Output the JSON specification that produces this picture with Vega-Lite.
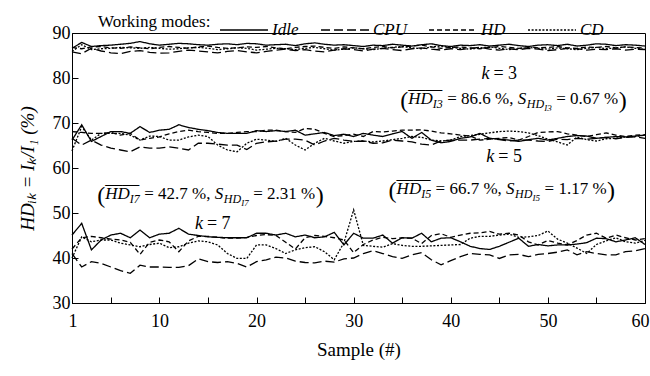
{
"$schema": "https://vega.github.io/schema/vega-lite/v6.json",
"width": 573, "height": 270,
"autosize": {"type": "none"},
"padding": {"left": 72, "top": 33, "right": 5, "bottom": 73},
"background": "white",
"config": {
  "view": {"stroke": "black", "strokeWidth": 1},
  "axis": {"domainColor": "black", "tickColor": "black", "labelColor": "black", "titleColor": "black", "grid": false,
           "labelFont": "Liberation Serif", "titleFont": "Liberation Serif", "labelFontSize": 18, "titleFontSize": 19,
           "titleFontWeight": "normal", "tickSize": -6, "domainWidth": 1, "tickWidth": 1}
},
"datasets": {
"ks": [
 {"s": 44.8, "v": 80.9, "t": "= 3"},
 {"s": 45.3, "v": 62.4, "t": "= 5"},
 {"s": 15.3, "v": 47.6, "t": "= 7"}
],
"forms": [
 {"s": 34.8, "v": 74.3, "sub": "I3", "m1": "= 86.6 %,", "m2": "= 0.67 %"},
 {"s": 33.6, "v": 54.2, "sub": "I5", "m1": "= 66.7 %,", "m2": "= 1.17 %"},
 {"s": 3.6, "v": 53.2, "sub": "I7", "m1": "= 42.7 %,", "m2": "= 2.31 %"}
],
"lines": [
{"k":3,"m":"Idle","s":1,"v":86.6},{"k":3,"m":"Idle","s":2,"v":87.9},{"k":3,"m":"Idle","s":3,"v":87.0},{"k":3,"m":"Idle","s":4,"v":87.2},{"k":3,"m":"Idle","s":5,"v":87.3},{"k":3,"m":"Idle","s":6,"v":87.5},{"k":3,"m":"Idle","s":7,"v":87.7},{"k":3,"m":"Idle","s":8,"v":88.1},{"k":3,"m":"Idle","s":9,"v":87.6},{"k":3,"m":"Idle","s":10,"v":87.3},
{"k":3,"m":"Idle","s":11,"v":87.5},{"k":3,"m":"Idle","s":12,"v":87.7},{"k":3,"m":"Idle","s":13,"v":87.6},{"k":3,"m":"Idle","s":14,"v":87.4},{"k":3,"m":"Idle","s":15,"v":87.3},{"k":3,"m":"Idle","s":16,"v":87.5},{"k":3,"m":"Idle","s":17,"v":87.6},{"k":3,"m":"Idle","s":18,"v":87.4},{"k":3,"m":"Idle","s":19,"v":87.7},{"k":3,"m":"Idle","s":20,"v":87.6},
{"k":3,"m":"Idle","s":21,"v":87.3},{"k":3,"m":"Idle","s":22,"v":87.4},{"k":3,"m":"Idle","s":23,"v":87.5},{"k":3,"m":"Idle","s":24,"v":87.2},{"k":3,"m":"Idle","s":25,"v":87.6},{"k":3,"m":"Idle","s":26,"v":87.8},{"k":3,"m":"Idle","s":27,"v":87.5},{"k":3,"m":"Idle","s":28,"v":87.3},{"k":3,"m":"Idle","s":29,"v":87.4},{"k":3,"m":"Idle","s":30,"v":87.2},
{"k":3,"m":"Idle","s":31,"v":87.0},{"k":3,"m":"Idle","s":32,"v":87.3},{"k":3,"m":"Idle","s":33,"v":87.2},{"k":3,"m":"Idle","s":34,"v":87.5},{"k":3,"m":"Idle","s":35,"v":87.3},{"k":3,"m":"Idle","s":36,"v":87.1},{"k":3,"m":"Idle","s":37,"v":87.4},{"k":3,"m":"Idle","s":38,"v":87.6},{"k":3,"m":"Idle","s":39,"v":87.2},{"k":3,"m":"Idle","s":40,"v":87.0},
{"k":3,"m":"Idle","s":41,"v":87.3},{"k":3,"m":"Idle","s":42,"v":87.2},{"k":3,"m":"Idle","s":43,"v":87.4},{"k":3,"m":"Idle","s":44,"v":87.1},{"k":3,"m":"Idle","s":45,"v":87.3},{"k":3,"m":"Idle","s":46,"v":87.5},{"k":3,"m":"Idle","s":47,"v":87.2},{"k":3,"m":"Idle","s":48,"v":87.0},{"k":3,"m":"Idle","s":49,"v":87.3},{"k":3,"m":"Idle","s":50,"v":87.4},
{"k":3,"m":"Idle","s":51,"v":87.2},{"k":3,"m":"Idle","s":52,"v":87.5},{"k":3,"m":"Idle","s":53,"v":87.1},{"k":3,"m":"Idle","s":54,"v":87.3},{"k":3,"m":"Idle","s":55,"v":87.6},{"k":3,"m":"Idle","s":56,"v":87.5},{"k":3,"m":"Idle","s":57,"v":87.2},{"k":3,"m":"Idle","s":58,"v":87.4},{"k":3,"m":"Idle","s":59,"v":87.3},{"k":3,"m":"Idle","s":60,"v":87.1},
{"k":3,"m":"CPU","s":1,"v":85.8},{"k":3,"m":"CPU","s":2,"v":85.4},{"k":3,"m":"CPU","s":3,"v":86.6},{"k":3,"m":"CPU","s":4,"v":86.0},{"k":3,"m":"CPU","s":5,"v":85.6},{"k":3,"m":"CPU","s":6,"v":85.4},{"k":3,"m":"CPU","s":7,"v":85.9},{"k":3,"m":"CPU","s":8,"v":86.1},{"k":3,"m":"CPU","s":9,"v":85.7},{"k":3,"m":"CPU","s":10,"v":85.5},
{"k":3,"m":"CPU","s":11,"v":85.6},{"k":3,"m":"CPU","s":12,"v":85.9},{"k":3,"m":"CPU","s":13,"v":86.2},{"k":3,"m":"CPU","s":14,"v":86.0},{"k":3,"m":"CPU","s":15,"v":85.8},{"k":3,"m":"CPU","s":16,"v":85.6},{"k":3,"m":"CPU","s":17,"v":85.9},{"k":3,"m":"CPU","s":18,"v":86.1},{"k":3,"m":"CPU","s":19,"v":85.8},{"k":3,"m":"CPU","s":20,"v":85.6},
{"k":3,"m":"CPU","s":21,"v":85.9},{"k":3,"m":"CPU","s":22,"v":86.2},{"k":3,"m":"CPU","s":23,"v":86.4},{"k":3,"m":"CPU","s":24,"v":86.1},{"k":3,"m":"CPU","s":25,"v":86.3},{"k":3,"m":"CPU","s":26,"v":86.0},{"k":3,"m":"CPU","s":27,"v":85.8},{"k":3,"m":"CPU","s":28,"v":86.2},{"k":3,"m":"CPU","s":29,"v":86.5},{"k":3,"m":"CPU","s":30,"v":86.3},
{"k":3,"m":"CPU","s":31,"v":86.0},{"k":3,"m":"CPU","s":32,"v":86.4},{"k":3,"m":"CPU","s":33,"v":86.6},{"k":3,"m":"CPU","s":34,"v":86.3},{"k":3,"m":"CPU","s":35,"v":86.1},{"k":3,"m":"CPU","s":36,"v":86.5},{"k":3,"m":"CPU","s":37,"v":86.7},{"k":3,"m":"CPU","s":38,"v":86.4},{"k":3,"m":"CPU","s":39,"v":86.2},{"k":3,"m":"CPU","s":40,"v":86.5},
{"k":3,"m":"CPU","s":41,"v":86.3},{"k":3,"m":"CPU","s":42,"v":86.6},{"k":3,"m":"CPU","s":43,"v":86.8},{"k":3,"m":"CPU","s":44,"v":86.4},{"k":3,"m":"CPU","s":45,"v":86.2},{"k":3,"m":"CPU","s":46,"v":86.5},{"k":3,"m":"CPU","s":47,"v":86.3},{"k":3,"m":"CPU","s":48,"v":86.6},{"k":3,"m":"CPU","s":49,"v":86.4},{"k":3,"m":"CPU","s":50,"v":86.1},
{"k":3,"m":"CPU","s":51,"v":86.3},{"k":3,"m":"CPU","s":52,"v":86.6},{"k":3,"m":"CPU","s":53,"v":86.5},{"k":3,"m":"CPU","s":54,"v":86.2},{"k":3,"m":"CPU","s":55,"v":86.4},{"k":3,"m":"CPU","s":56,"v":86.3},{"k":3,"m":"CPU","s":57,"v":86.5},{"k":3,"m":"CPU","s":58,"v":86.2},{"k":3,"m":"CPU","s":59,"v":86.4},{"k":3,"m":"CPU","s":60,"v":86.3},
{"k":3,"m":"HD","s":1,"v":86.8},{"k":3,"m":"HD","s":2,"v":86.5},{"k":3,"m":"HD","s":3,"v":86.9},{"k":3,"m":"HD","s":4,"v":87.0},{"k":3,"m":"HD","s":5,"v":86.7},{"k":3,"m":"HD","s":6,"v":86.6},{"k":3,"m":"HD","s":7,"v":86.9},{"k":3,"m":"HD","s":8,"v":86.7},{"k":3,"m":"HD","s":9,"v":86.5},{"k":3,"m":"HD","s":10,"v":86.8},
{"k":3,"m":"HD","s":11,"v":87.0},{"k":3,"m":"HD","s":12,"v":86.8},{"k":3,"m":"HD","s":13,"v":86.6},{"k":3,"m":"HD","s":14,"v":86.9},{"k":3,"m":"HD","s":15,"v":87.1},{"k":3,"m":"HD","s":16,"v":86.8},{"k":3,"m":"HD","s":17,"v":86.6},{"k":3,"m":"HD","s":18,"v":86.7},{"k":3,"m":"HD","s":19,"v":86.9},{"k":3,"m":"HD","s":20,"v":86.8},
{"k":3,"m":"HD","s":21,"v":87.0},{"k":3,"m":"HD","s":22,"v":86.7},{"k":3,"m":"HD","s":23,"v":86.5},{"k":3,"m":"HD","s":24,"v":86.8},{"k":3,"m":"HD","s":25,"v":87.0},{"k":3,"m":"HD","s":26,"v":87.1},{"k":3,"m":"HD","s":27,"v":86.8},{"k":3,"m":"HD","s":28,"v":86.6},{"k":3,"m":"HD","s":29,"v":86.9},{"k":3,"m":"HD","s":30,"v":86.7},
{"k":3,"m":"HD","s":31,"v":86.5},{"k":3,"m":"HD","s":32,"v":86.8},{"k":3,"m":"HD","s":33,"v":87.0},{"k":3,"m":"HD","s":34,"v":86.7},{"k":3,"m":"HD","s":35,"v":86.9},{"k":3,"m":"HD","s":36,"v":87.1},{"k":3,"m":"HD","s":37,"v":87.3},{"k":3,"m":"HD","s":38,"v":86.9},{"k":3,"m":"HD","s":39,"v":86.6},{"k":3,"m":"HD","s":40,"v":86.8},
{"k":3,"m":"HD","s":41,"v":86.9},{"k":3,"m":"HD","s":42,"v":86.7},{"k":3,"m":"HD","s":43,"v":86.5},{"k":3,"m":"HD","s":44,"v":86.8},{"k":3,"m":"HD","s":45,"v":87.0},{"k":3,"m":"HD","s":46,"v":86.8},{"k":3,"m":"HD","s":47,"v":86.6},{"k":3,"m":"HD","s":48,"v":86.9},{"k":3,"m":"HD","s":49,"v":86.7},{"k":3,"m":"HD","s":50,"v":86.8},
{"k":3,"m":"HD","s":51,"v":87.0},{"k":3,"m":"HD","s":52,"v":86.7},{"k":3,"m":"HD","s":53,"v":86.6},{"k":3,"m":"HD","s":54,"v":86.9},{"k":3,"m":"HD","s":55,"v":86.8},{"k":3,"m":"HD","s":56,"v":87.0},{"k":3,"m":"HD","s":57,"v":86.7},{"k":3,"m":"HD","s":58,"v":86.9},{"k":3,"m":"HD","s":59,"v":86.8},{"k":3,"m":"HD","s":60,"v":86.6},
{"k":3,"m":"CD","s":1,"v":85.9},{"k":3,"m":"CD","s":2,"v":87.4},{"k":3,"m":"CD","s":3,"v":86.3},{"k":3,"m":"CD","s":4,"v":86.5},{"k":3,"m":"CD","s":5,"v":86.6},{"k":3,"m":"CD","s":6,"v":86.8},{"k":3,"m":"CD","s":7,"v":86.7},{"k":3,"m":"CD","s":8,"v":86.6},{"k":3,"m":"CD","s":9,"v":86.8},{"k":3,"m":"CD","s":10,"v":86.6},
{"k":3,"m":"CD","s":11,"v":86.4},{"k":3,"m":"CD","s":12,"v":86.5},{"k":3,"m":"CD","s":13,"v":86.7},{"k":3,"m":"CD","s":14,"v":86.8},{"k":3,"m":"CD","s":15,"v":86.6},{"k":3,"m":"CD","s":16,"v":86.3},{"k":3,"m":"CD","s":17,"v":86.5},{"k":3,"m":"CD","s":18,"v":86.7},{"k":3,"m":"CD","s":19,"v":86.6},{"k":3,"m":"CD","s":20,"v":86.2},
{"k":3,"m":"CD","s":21,"v":86.4},{"k":3,"m":"CD","s":22,"v":86.6},{"k":3,"m":"CD","s":23,"v":86.5},{"k":3,"m":"CD","s":24,"v":86.3},{"k":3,"m":"CD","s":25,"v":86.6},{"k":3,"m":"CD","s":26,"v":86.8},{"k":3,"m":"CD","s":27,"v":86.5},{"k":3,"m":"CD","s":28,"v":86.2},{"k":3,"m":"CD","s":29,"v":86.4},{"k":3,"m":"CD","s":30,"v":86.7},
{"k":3,"m":"CD","s":31,"v":86.5},{"k":3,"m":"CD","s":32,"v":86.3},{"k":3,"m":"CD","s":33,"v":86.6},{"k":3,"m":"CD","s":34,"v":86.8},{"k":3,"m":"CD","s":35,"v":87.0},{"k":3,"m":"CD","s":36,"v":86.7},{"k":3,"m":"CD","s":37,"v":86.5},{"k":3,"m":"CD","s":38,"v":86.9},{"k":3,"m":"CD","s":39,"v":87.1},{"k":3,"m":"CD","s":40,"v":86.8},
{"k":3,"m":"CD","s":41,"v":86.6},{"k":3,"m":"CD","s":42,"v":86.4},{"k":3,"m":"CD","s":43,"v":86.7},{"k":3,"m":"CD","s":44,"v":86.9},{"k":3,"m":"CD","s":45,"v":86.6},{"k":3,"m":"CD","s":46,"v":86.3},{"k":3,"m":"CD","s":47,"v":86.5},{"k":3,"m":"CD","s":48,"v":86.8},{"k":3,"m":"CD","s":49,"v":86.6},{"k":3,"m":"CD","s":50,"v":86.4},
{"k":3,"m":"CD","s":51,"v":86.7},{"k":3,"m":"CD","s":52,"v":86.5},{"k":3,"m":"CD","s":53,"v":86.3},{"k":3,"m":"CD","s":54,"v":86.6},{"k":3,"m":"CD","s":55,"v":86.8},{"k":3,"m":"CD","s":56,"v":86.5},{"k":3,"m":"CD","s":57,"v":86.7},{"k":3,"m":"CD","s":58,"v":86.9},{"k":3,"m":"CD","s":59,"v":86.6},{"k":3,"m":"CD","s":60,"v":86.4},
{"k":5,"m":"Idle","s":1,"v":66.2},{"k":5,"m":"Idle","s":2,"v":69.6},{"k":5,"m":"Idle","s":3,"v":65.9},{"k":5,"m":"Idle","s":4,"v":67.0},{"k":5,"m":"Idle","s":5,"v":68.1},{"k":5,"m":"Idle","s":6,"v":68.1},{"k":5,"m":"Idle","s":7,"v":67.7},{"k":5,"m":"Idle","s":8,"v":69.2},{"k":5,"m":"Idle","s":9,"v":67.9},{"k":5,"m":"Idle","s":10,"v":68.4},
{"k":5,"m":"Idle","s":11,"v":68.6},{"k":5,"m":"Idle","s":12,"v":69.6},{"k":5,"m":"Idle","s":13,"v":69.0},{"k":5,"m":"Idle","s":14,"v":68.6},{"k":5,"m":"Idle","s":15,"v":68.3},{"k":5,"m":"Idle","s":16,"v":67.9},{"k":5,"m":"Idle","s":17,"v":67.7},{"k":5,"m":"Idle","s":18,"v":67.7},{"k":5,"m":"Idle","s":19,"v":67.7},{"k":5,"m":"Idle","s":20,"v":68.3},
{"k":5,"m":"Idle","s":21,"v":68.1},{"k":5,"m":"Idle","s":22,"v":68.3},{"k":5,"m":"Idle","s":23,"v":68.1},{"k":5,"m":"Idle","s":24,"v":68.4},{"k":5,"m":"Idle","s":25,"v":67.3},{"k":5,"m":"Idle","s":26,"v":67.6},{"k":5,"m":"Idle","s":27,"v":67.9},{"k":5,"m":"Idle","s":28,"v":67.2},{"k":5,"m":"Idle","s":29,"v":67.5},{"k":5,"m":"Idle","s":30,"v":67.0},
{"k":5,"m":"Idle","s":31,"v":67.7},{"k":5,"m":"Idle","s":32,"v":67.3},{"k":5,"m":"Idle","s":33,"v":67.0},{"k":5,"m":"Idle","s":34,"v":67.6},{"k":5,"m":"Idle","s":35,"v":68.1},{"k":5,"m":"Idle","s":36,"v":66.6},{"k":5,"m":"Idle","s":37,"v":67.9},{"k":5,"m":"Idle","s":38,"v":66.2},{"k":5,"m":"Idle","s":39,"v":65.6},{"k":5,"m":"Idle","s":40,"v":65.9},
{"k":5,"m":"Idle","s":41,"v":66.6},{"k":5,"m":"Idle","s":42,"v":66.9},{"k":5,"m":"Idle","s":43,"v":67.7},{"k":5,"m":"Idle","s":44,"v":66.6},{"k":5,"m":"Idle","s":45,"v":66.4},{"k":5,"m":"Idle","s":46,"v":66.2},{"k":5,"m":"Idle","s":47,"v":65.9},{"k":5,"m":"Idle","s":48,"v":66.3},{"k":5,"m":"Idle","s":49,"v":66.6},{"k":5,"m":"Idle","s":50,"v":66.2},
{"k":5,"m":"Idle","s":51,"v":66.6},{"k":5,"m":"Idle","s":52,"v":67.0},{"k":5,"m":"Idle","s":53,"v":67.2},{"k":5,"m":"Idle","s":54,"v":67.1},{"k":5,"m":"Idle","s":55,"v":66.6},{"k":5,"m":"Idle","s":56,"v":66.8},{"k":5,"m":"Idle","s":57,"v":67.0},{"k":5,"m":"Idle","s":58,"v":66.9},{"k":5,"m":"Idle","s":59,"v":67.1},{"k":5,"m":"Idle","s":60,"v":67.3},
{"k":5,"m":"CPU","s":1,"v":66.6},{"k":5,"m":"CPU","s":2,"v":65.1},{"k":5,"m":"CPU","s":3,"v":66.2},{"k":5,"m":"CPU","s":4,"v":65.1},{"k":5,"m":"CPU","s":5,"v":64.4},{"k":5,"m":"CPU","s":6,"v":64.0},{"k":5,"m":"CPU","s":7,"v":63.6},{"k":5,"m":"CPU","s":8,"v":64.7},{"k":5,"m":"CPU","s":9,"v":64.4},{"k":5,"m":"CPU","s":10,"v":64.4},
{"k":5,"m":"CPU","s":11,"v":64.7},{"k":5,"m":"CPU","s":12,"v":64.4},{"k":5,"m":"CPU","s":13,"v":64.0},{"k":5,"m":"CPU","s":14,"v":65.5},{"k":5,"m":"CPU","s":15,"v":65.5},{"k":5,"m":"CPU","s":16,"v":65.3},{"k":5,"m":"CPU","s":17,"v":65.1},{"k":5,"m":"CPU","s":18,"v":65.1},{"k":5,"m":"CPU","s":19,"v":64.1},{"k":5,"m":"CPU","s":20,"v":65.5},
{"k":5,"m":"CPU","s":21,"v":65.8},{"k":5,"m":"CPU","s":22,"v":66.0},{"k":5,"m":"CPU","s":23,"v":66.4},{"k":5,"m":"CPU","s":24,"v":66.4},{"k":5,"m":"CPU","s":25,"v":66.2},{"k":5,"m":"CPU","s":26,"v":65.1},{"k":5,"m":"CPU","s":27,"v":66.0},{"k":5,"m":"CPU","s":28,"v":66.6},{"k":5,"m":"CPU","s":29,"v":66.2},{"k":5,"m":"CPU","s":30,"v":65.9},
{"k":5,"m":"CPU","s":31,"v":66.0},{"k":5,"m":"CPU","s":32,"v":65.5},{"k":5,"m":"CPU","s":33,"v":65.6},{"k":5,"m":"CPU","s":34,"v":66.2},{"k":5,"m":"CPU","s":35,"v":66.0},{"k":5,"m":"CPU","s":36,"v":65.8},{"k":5,"m":"CPU","s":37,"v":65.3},{"k":5,"m":"CPU","s":38,"v":65.1},{"k":5,"m":"CPU","s":39,"v":66.0},{"k":5,"m":"CPU","s":40,"v":66.2},
{"k":5,"m":"CPU","s":41,"v":66.2},{"k":5,"m":"CPU","s":42,"v":66.2},{"k":5,"m":"CPU","s":43,"v":66.4},{"k":5,"m":"CPU","s":44,"v":66.6},{"k":5,"m":"CPU","s":45,"v":66.3},{"k":5,"m":"CPU","s":46,"v":66.0},{"k":5,"m":"CPU","s":47,"v":66.2},{"k":5,"m":"CPU","s":48,"v":66.2},{"k":5,"m":"CPU","s":49,"v":66.0},{"k":5,"m":"CPU","s":50,"v":65.9},
{"k":5,"m":"CPU","s":51,"v":66.4},{"k":5,"m":"CPU","s":52,"v":66.3},{"k":5,"m":"CPU","s":53,"v":66.6},{"k":5,"m":"CPU","s":54,"v":66.4},{"k":5,"m":"CPU","s":55,"v":66.6},{"k":5,"m":"CPU","s":56,"v":66.8},{"k":5,"m":"CPU","s":57,"v":66.5},{"k":5,"m":"CPU","s":58,"v":66.8},{"k":5,"m":"CPU","s":59,"v":66.9},{"k":5,"m":"CPU","s":60,"v":66.6},
{"k":5,"m":"HD","s":1,"v":68.1},{"k":5,"m":"HD","s":2,"v":67.9},{"k":5,"m":"HD","s":3,"v":67.7},{"k":5,"m":"HD","s":4,"v":67.7},{"k":5,"m":"HD","s":5,"v":67.9},{"k":5,"m":"HD","s":6,"v":67.3},{"k":5,"m":"HD","s":7,"v":67.7},{"k":5,"m":"HD","s":8,"v":66.2},{"k":5,"m":"HD","s":9,"v":66.6},{"k":5,"m":"HD","s":10,"v":66.9},
{"k":5,"m":"HD","s":11,"v":67.6},{"k":5,"m":"HD","s":12,"v":68.1},{"k":5,"m":"HD","s":13,"v":68.4},{"k":5,"m":"HD","s":14,"v":68.1},{"k":5,"m":"HD","s":15,"v":67.9},{"k":5,"m":"HD","s":16,"v":67.7},{"k":5,"m":"HD","s":17,"v":67.7},{"k":5,"m":"HD","s":18,"v":67.9},{"k":5,"m":"HD","s":19,"v":68.1},{"k":5,"m":"HD","s":20,"v":68.1},
{"k":5,"m":"HD","s":21,"v":68.4},{"k":5,"m":"HD","s":22,"v":68.4},{"k":5,"m":"HD","s":23,"v":68.1},{"k":5,"m":"HD","s":24,"v":67.9},{"k":5,"m":"HD","s":25,"v":68.8},{"k":5,"m":"HD","s":26,"v":68.6},{"k":5,"m":"HD","s":27,"v":67.7},{"k":5,"m":"HD","s":28,"v":67.0},{"k":5,"m":"HD","s":29,"v":67.2},{"k":5,"m":"HD","s":30,"v":67.5},
{"k":5,"m":"HD","s":31,"v":67.0},{"k":5,"m":"HD","s":32,"v":68.1},{"k":5,"m":"HD","s":33,"v":68.0},{"k":5,"m":"HD","s":34,"v":68.2},{"k":5,"m":"HD","s":35,"v":68.4},{"k":5,"m":"HD","s":36,"v":68.4},{"k":5,"m":"HD","s":37,"v":68.5},{"k":5,"m":"HD","s":38,"v":68.2},{"k":5,"m":"HD","s":39,"v":67.8},{"k":5,"m":"HD","s":40,"v":67.6},
{"k":5,"m":"HD","s":41,"v":67.3},{"k":5,"m":"HD","s":42,"v":67.1},{"k":5,"m":"HD","s":43,"v":66.2},{"k":5,"m":"HD","s":44,"v":66.4},{"k":5,"m":"HD","s":45,"v":66.6},{"k":5,"m":"HD","s":46,"v":66.8},{"k":5,"m":"HD","s":47,"v":66.2},{"k":5,"m":"HD","s":48,"v":67.0},{"k":5,"m":"HD","s":49,"v":67.9},{"k":5,"m":"HD","s":50,"v":68.0},
{"k":5,"m":"HD","s":51,"v":68.1},{"k":5,"m":"HD","s":52,"v":67.6},{"k":5,"m":"HD","s":53,"v":67.3},{"k":5,"m":"HD","s":54,"v":67.0},{"k":5,"m":"HD","s":55,"v":67.4},{"k":5,"m":"HD","s":56,"v":67.8},{"k":5,"m":"HD","s":57,"v":67.3},{"k":5,"m":"HD","s":58,"v":67.0},{"k":5,"m":"HD","s":59,"v":67.3},{"k":5,"m":"HD","s":60,"v":67.4},
{"k":5,"m":"CD","s":1,"v":63.8},{"k":5,"m":"CD","s":2,"v":69.2},{"k":5,"m":"CD","s":3,"v":66.2},{"k":5,"m":"CD","s":4,"v":67.7},{"k":5,"m":"CD","s":5,"v":67.7},{"k":5,"m":"CD","s":6,"v":67.7},{"k":5,"m":"CD","s":7,"v":67.3},{"k":5,"m":"CD","s":8,"v":66.2},{"k":5,"m":"CD","s":9,"v":67.1},{"k":5,"m":"CD","s":10,"v":67.0},
{"k":5,"m":"CD","s":11,"v":66.2},{"k":5,"m":"CD","s":12,"v":66.2},{"k":5,"m":"CD","s":13,"v":66.9},{"k":5,"m":"CD","s":14,"v":67.3},{"k":5,"m":"CD","s":15,"v":67.0},{"k":5,"m":"CD","s":16,"v":65.1},{"k":5,"m":"CD","s":17,"v":64.0},{"k":5,"m":"CD","s":18,"v":63.6},{"k":5,"m":"CD","s":19,"v":65.5},{"k":5,"m":"CD","s":20,"v":66.4},
{"k":5,"m":"CD","s":21,"v":66.2},{"k":5,"m":"CD","s":22,"v":65.9},{"k":5,"m":"CD","s":23,"v":66.6},{"k":5,"m":"CD","s":24,"v":65.1},{"k":5,"m":"CD","s":25,"v":64.0},{"k":5,"m":"CD","s":26,"v":65.5},{"k":5,"m":"CD","s":27,"v":66.6},{"k":5,"m":"CD","s":28,"v":66.0},{"k":5,"m":"CD","s":29,"v":65.5},{"k":5,"m":"CD","s":30,"v":65.9},
{"k":5,"m":"CD","s":31,"v":66.0},{"k":5,"m":"CD","s":32,"v":65.8},{"k":5,"m":"CD","s":33,"v":66.0},{"k":5,"m":"CD","s":34,"v":66.3},{"k":5,"m":"CD","s":35,"v":66.6},{"k":5,"m":"CD","s":36,"v":67.0},{"k":5,"m":"CD","s":37,"v":66.8},{"k":5,"m":"CD","s":38,"v":66.2},{"k":5,"m":"CD","s":39,"v":66.0},{"k":5,"m":"CD","s":40,"v":66.2},
{"k":5,"m":"CD","s":41,"v":67.0},{"k":5,"m":"CD","s":42,"v":67.2},{"k":5,"m":"CD","s":43,"v":67.5},{"k":5,"m":"CD","s":44,"v":67.8},{"k":5,"m":"CD","s":45,"v":68.1},{"k":5,"m":"CD","s":46,"v":68.2},{"k":5,"m":"CD","s":47,"v":68.1},{"k":5,"m":"CD","s":48,"v":67.8},{"k":5,"m":"CD","s":49,"v":67.2},{"k":5,"m":"CD","s":50,"v":66.4},
{"k":5,"m":"CD","s":51,"v":65.8},{"k":5,"m":"CD","s":52,"v":65.1},{"k":5,"m":"CD","s":53,"v":66.9},{"k":5,"m":"CD","s":54,"v":66.3},{"k":5,"m":"CD","s":55,"v":66.0},{"k":5,"m":"CD","s":56,"v":66.5},{"k":5,"m":"CD","s":57,"v":66.6},{"k":5,"m":"CD","s":58,"v":66.9},{"k":5,"m":"CD","s":59,"v":67.0},{"k":5,"m":"CD","s":60,"v":67.3},
{"k":7,"m":"Idle","s":1,"v":45.1},{"k":7,"m":"Idle","s":2,"v":47.7},{"k":7,"m":"Idle","s":3,"v":41.8},{"k":7,"m":"Idle","s":4,"v":44.0},{"k":7,"m":"Idle","s":5,"v":45.1},{"k":7,"m":"Idle","s":6,"v":45.5},{"k":7,"m":"Idle","s":7,"v":44.5},{"k":7,"m":"Idle","s":8,"v":46.2},{"k":7,"m":"Idle","s":9,"v":44.5},{"k":7,"m":"Idle","s":10,"v":45.3},
{"k":7,"m":"Idle","s":11,"v":45.5},{"k":7,"m":"Idle","s":12,"v":46.6},{"k":7,"m":"Idle","s":13,"v":45.3},{"k":7,"m":"Idle","s":14,"v":45.0},{"k":7,"m":"Idle","s":15,"v":44.7},{"k":7,"m":"Idle","s":16,"v":44.6},{"k":7,"m":"Idle","s":17,"v":44.5},{"k":7,"m":"Idle","s":18,"v":44.5},{"k":7,"m":"Idle","s":19,"v":44.5},{"k":7,"m":"Idle","s":20,"v":45.5},
{"k":7,"m":"Idle","s":21,"v":45.5},{"k":7,"m":"Idle","s":22,"v":45.1},{"k":7,"m":"Idle","s":23,"v":45.5},{"k":7,"m":"Idle","s":24,"v":44.7},{"k":7,"m":"Idle","s":25,"v":45.1},{"k":7,"m":"Idle","s":26,"v":44.5},{"k":7,"m":"Idle","s":27,"v":44.7},{"k":7,"m":"Idle","s":28,"v":45.7},{"k":7,"m":"Idle","s":29,"v":42.9},{"k":7,"m":"Idle","s":30,"v":45.5},
{"k":7,"m":"Idle","s":31,"v":44.4},{"k":7,"m":"Idle","s":32,"v":44.4},{"k":7,"m":"Idle","s":33,"v":45.1},{"k":7,"m":"Idle","s":34,"v":43.3},{"k":7,"m":"Idle","s":35,"v":44.5},{"k":7,"m":"Idle","s":36,"v":44.4},{"k":7,"m":"Idle","s":37,"v":45.5},{"k":7,"m":"Idle","s":38,"v":43.6},{"k":7,"m":"Idle","s":39,"v":44.4},{"k":7,"m":"Idle","s":40,"v":44.5},
{"k":7,"m":"Idle","s":41,"v":43.6},{"k":7,"m":"Idle","s":42,"v":42.6},{"k":7,"m":"Idle","s":43,"v":42.1},{"k":7,"m":"Idle","s":44,"v":41.9},{"k":7,"m":"Idle","s":45,"v":42.6},{"k":7,"m":"Idle","s":46,"v":43.5},{"k":7,"m":"Idle","s":47,"v":44.4},{"k":7,"m":"Idle","s":48,"v":42.6},{"k":7,"m":"Idle","s":49,"v":43.0},{"k":7,"m":"Idle","s":50,"v":42.7},
{"k":7,"m":"Idle","s":51,"v":42.9},{"k":7,"m":"Idle","s":52,"v":42.9},{"k":7,"m":"Idle","s":53,"v":43.1},{"k":7,"m":"Idle","s":54,"v":43.4},{"k":7,"m":"Idle","s":55,"v":44.4},{"k":7,"m":"Idle","s":56,"v":44.3},{"k":7,"m":"Idle","s":57,"v":43.6},{"k":7,"m":"Idle","s":58,"v":44.0},{"k":7,"m":"Idle","s":59,"v":44.5},{"k":7,"m":"Idle","s":60,"v":43.0},
{"k":7,"m":"CPU","s":1,"v":41.0},{"k":7,"m":"CPU","s":2,"v":38.0},{"k":7,"m":"CPU","s":3,"v":39.2},{"k":7,"m":"CPU","s":4,"v":38.8},{"k":7,"m":"CPU","s":5,"v":38.0},{"k":7,"m":"CPU","s":6,"v":37.2},{"k":7,"m":"CPU","s":7,"v":36.6},{"k":7,"m":"CPU","s":8,"v":38.4},{"k":7,"m":"CPU","s":9,"v":38.0},{"k":7,"m":"CPU","s":10,"v":38.0},
{"k":7,"m":"CPU","s":11,"v":37.9},{"k":7,"m":"CPU","s":12,"v":37.9},{"k":7,"m":"CPU","s":13,"v":38.3},{"k":7,"m":"CPU","s":14,"v":39.8},{"k":7,"m":"CPU","s":15,"v":39.2},{"k":7,"m":"CPU","s":16,"v":39.0},{"k":7,"m":"CPU","s":17,"v":39.2},{"k":7,"m":"CPU","s":18,"v":38.8},{"k":7,"m":"CPU","s":19,"v":38.0},{"k":7,"m":"CPU","s":20,"v":39.2},
{"k":7,"m":"CPU","s":21,"v":39.6},{"k":7,"m":"CPU","s":22,"v":40.2},{"k":7,"m":"CPU","s":23,"v":40.0},{"k":7,"m":"CPU","s":24,"v":39.3},{"k":7,"m":"CPU","s":25,"v":39.0},{"k":7,"m":"CPU","s":26,"v":38.9},{"k":7,"m":"CPU","s":27,"v":39.3},{"k":7,"m":"CPU","s":28,"v":39.1},{"k":7,"m":"CPU","s":29,"v":39.8},{"k":7,"m":"CPU","s":30,"v":40.0},
{"k":7,"m":"CPU","s":31,"v":41.0},{"k":7,"m":"CPU","s":32,"v":41.6},{"k":7,"m":"CPU","s":33,"v":41.0},{"k":7,"m":"CPU","s":34,"v":40.3},{"k":7,"m":"CPU","s":35,"v":39.9},{"k":7,"m":"CPU","s":36,"v":40.7},{"k":7,"m":"CPU","s":37,"v":41.2},{"k":7,"m":"CPU","s":38,"v":39.6},{"k":7,"m":"CPU","s":39,"v":38.5},{"k":7,"m":"CPU","s":40,"v":39.4},
{"k":7,"m":"CPU","s":41,"v":40.3},{"k":7,"m":"CPU","s":42,"v":41.0},{"k":7,"m":"CPU","s":43,"v":40.8},{"k":7,"m":"CPU","s":44,"v":40.7},{"k":7,"m":"CPU","s":45,"v":39.9},{"k":7,"m":"CPU","s":46,"v":40.7},{"k":7,"m":"CPU","s":47,"v":40.8},{"k":7,"m":"CPU","s":48,"v":40.3},{"k":7,"m":"CPU","s":49,"v":40.8},{"k":7,"m":"CPU","s":50,"v":41.0},
{"k":7,"m":"CPU","s":51,"v":41.3},{"k":7,"m":"CPU","s":52,"v":41.8},{"k":7,"m":"CPU","s":53,"v":40.7},{"k":7,"m":"CPU","s":54,"v":41.4},{"k":7,"m":"CPU","s":55,"v":41.0},{"k":7,"m":"CPU","s":56,"v":40.7},{"k":7,"m":"CPU","s":57,"v":40.7},{"k":7,"m":"CPU","s":58,"v":41.4},{"k":7,"m":"CPU","s":59,"v":41.6},{"k":7,"m":"CPU","s":60,"v":42.1},
{"k":7,"m":"HD","s":1,"v":42.0},{"k":7,"m":"HD","s":2,"v":44.5},{"k":7,"m":"HD","s":3,"v":44.8},{"k":7,"m":"HD","s":4,"v":44.5},{"k":7,"m":"HD","s":5,"v":44.2},{"k":7,"m":"HD","s":6,"v":44.0},{"k":7,"m":"HD","s":7,"v":43.5},{"k":7,"m":"HD","s":8,"v":40.8},{"k":7,"m":"HD","s":9,"v":43.5},{"k":7,"m":"HD","s":10,"v":44.0},
{"k":7,"m":"HD","s":11,"v":43.6},{"k":7,"m":"HD","s":12,"v":41.4},{"k":7,"m":"HD","s":13,"v":43.8},{"k":7,"m":"HD","s":14,"v":44.8},{"k":7,"m":"HD","s":15,"v":44.8},{"k":7,"m":"HD","s":16,"v":44.6},{"k":7,"m":"HD","s":17,"v":44.4},{"k":7,"m":"HD","s":18,"v":44.4},{"k":7,"m":"HD","s":19,"v":44.6},{"k":7,"m":"HD","s":20,"v":45.0},
{"k":7,"m":"HD","s":21,"v":45.2},{"k":7,"m":"HD","s":22,"v":45.0},{"k":7,"m":"HD","s":23,"v":43.5},{"k":7,"m":"HD","s":24,"v":42.0},{"k":7,"m":"HD","s":25,"v":44.5},{"k":7,"m":"HD","s":26,"v":45.0},{"k":7,"m":"HD","s":27,"v":44.8},{"k":7,"m":"HD","s":28,"v":44.5},{"k":7,"m":"HD","s":29,"v":44.0},{"k":7,"m":"HD","s":30,"v":41.2},
{"k":7,"m":"HD","s":31,"v":43.0},{"k":7,"m":"HD","s":32,"v":44.0},{"k":7,"m":"HD","s":33,"v":44.6},{"k":7,"m":"HD","s":34,"v":44.3},{"k":7,"m":"HD","s":35,"v":44.5},{"k":7,"m":"HD","s":36,"v":44.4},{"k":7,"m":"HD","s":37,"v":43.2},{"k":7,"m":"HD","s":38,"v":45.0},{"k":7,"m":"HD","s":39,"v":45.4},{"k":7,"m":"HD","s":40,"v":44.6},
{"k":7,"m":"HD","s":41,"v":45.1},{"k":7,"m":"HD","s":42,"v":45.5},{"k":7,"m":"HD","s":43,"v":45.6},{"k":7,"m":"HD","s":44,"v":45.9},{"k":7,"m":"HD","s":45,"v":45.3},{"k":7,"m":"HD","s":46,"v":45.5},{"k":7,"m":"HD","s":47,"v":45.1},{"k":7,"m":"HD","s":48,"v":43.6},{"k":7,"m":"HD","s":49,"v":42.9},{"k":7,"m":"HD","s":50,"v":43.9},
{"k":7,"m":"HD","s":51,"v":43.3},{"k":7,"m":"HD","s":52,"v":42.9},{"k":7,"m":"HD","s":53,"v":43.9},{"k":7,"m":"HD","s":54,"v":45.1},{"k":7,"m":"HD","s":55,"v":45.5},{"k":7,"m":"HD","s":56,"v":44.4},{"k":7,"m":"HD","s":57,"v":45.1},{"k":7,"m":"HD","s":58,"v":44.5},{"k":7,"m":"HD","s":59,"v":44.0},{"k":7,"m":"HD","s":60,"v":44.3},
{"k":7,"m":"CD","s":1,"v":40.0},{"k":7,"m":"CD","s":2,"v":44.7},{"k":7,"m":"CD","s":3,"v":43.6},{"k":7,"m":"CD","s":4,"v":44.0},{"k":7,"m":"CD","s":5,"v":44.0},{"k":7,"m":"CD","s":6,"v":43.3},{"k":7,"m":"CD","s":7,"v":42.9},{"k":7,"m":"CD","s":8,"v":42.5},{"k":7,"m":"CD","s":9,"v":43.0},{"k":7,"m":"CD","s":10,"v":43.3},
{"k":7,"m":"CD","s":11,"v":42.3},{"k":7,"m":"CD","s":12,"v":42.5},{"k":7,"m":"CD","s":13,"v":43.3},{"k":7,"m":"CD","s":14,"v":43.8},{"k":7,"m":"CD","s":15,"v":43.6},{"k":7,"m":"CD","s":16,"v":42.9},{"k":7,"m":"CD","s":17,"v":41.0},{"k":7,"m":"CD","s":18,"v":39.9},{"k":7,"m":"CD","s":19,"v":39.9},{"k":7,"m":"CD","s":20,"v":42.9},
{"k":7,"m":"CD","s":21,"v":42.9},{"k":7,"m":"CD","s":22,"v":42.1},{"k":7,"m":"CD","s":23,"v":41.0},{"k":7,"m":"CD","s":24,"v":41.8},{"k":7,"m":"CD","s":25,"v":42.3},{"k":7,"m":"CD","s":26,"v":42.5},{"k":7,"m":"CD","s":27,"v":41.4},{"k":7,"m":"CD","s":28,"v":39.6},{"k":7,"m":"CD","s":29,"v":43.4},{"k":7,"m":"CD","s":30,"v":50.7},
{"k":7,"m":"CD","s":31,"v":42.8},{"k":7,"m":"CD","s":32,"v":42.6},{"k":7,"m":"CD","s":33,"v":42.4},{"k":7,"m":"CD","s":34,"v":43.2},{"k":7,"m":"CD","s":35,"v":42.8},{"k":7,"m":"CD","s":36,"v":42.6},{"k":7,"m":"CD","s":37,"v":42.6},{"k":7,"m":"CD","s":38,"v":42.7},{"k":7,"m":"CD","s":39,"v":42.8},{"k":7,"m":"CD","s":40,"v":42.9},
{"k":7,"m":"CD","s":41,"v":43.0},{"k":7,"m":"CD","s":42,"v":44.4},{"k":7,"m":"CD","s":43,"v":44.8},{"k":7,"m":"CD","s":44,"v":44.8},{"k":7,"m":"CD","s":45,"v":45.1},{"k":7,"m":"CD","s":46,"v":45.3},{"k":7,"m":"CD","s":47,"v":44.6},{"k":7,"m":"CD","s":48,"v":44.7},{"k":7,"m":"CD","s":49,"v":45.0},{"k":7,"m":"CD","s":50,"v":46.0},
{"k":7,"m":"CD","s":51,"v":44.2},{"k":7,"m":"CD","s":52,"v":43.3},{"k":7,"m":"CD","s":53,"v":42.2},{"k":7,"m":"CD","s":54,"v":41.0},{"k":7,"m":"CD","s":55,"v":43.0},{"k":7,"m":"CD","s":56,"v":43.8},{"k":7,"m":"CD","s":57,"v":44.5},{"k":7,"m":"CD","s":58,"v":43.6},{"k":7,"m":"CD","s":59,"v":43.3},{"k":7,"m":"CD","s":60,"v":43.9}
]
},
"encoding": {
  "x": {"field": "s", "type": "quantitative", "scale": {"domain": [1, 60], "nice": false, "zero": false},
        "axis": {"title": "Sample (#)", "values": [1,5,10,15,20,25,30,35,40,45,50,55,60],
                 "labelExpr": "datum.value == 1 || datum.value % 10 == 0 ? datum.label : ''",
                 "labelPadding": 15, "titlePadding": 10, "labelFlush": true, "labelFlushOffset": 4, "labelOverlap": false}},
  "y": {"field": "v", "type": "quantitative", "scale": {"domain": [30, 90], "nice": false, "zero": false},
        "axis": {"title": "HDᵢₖ = Iₖ/I₁ (%)", "titleFontStyle": "italic", "values": [30,40,50,60,70,80,90],
                 "labelPadding": 8, "titlePadding": 15, "labelFlush": false}}
},
"layer": [
  {"data": {"name": "lines"},
   "mark": {"type": "line", "color": "black", "interpolate": "linear"},
   "encoding": {
     "detail": {"field": "k", "type": "nominal"},
     "strokeDash": {"field": "m", "type": "nominal",
        "scale": {"domain": ["Idle","CPU","HD","CD"], "range": [[1,0],[9,4],[5,3],[2,1.6]]},
        "legend": {"orient": "none", "legendX": 26, "legendY": -28, "direction": "horizontal",
                   "title": "Working modes:", "titleOrient": "left", "titleFont": "Liberation Serif", "titleFontSize": 17,
                   "titleFontWeight": "normal", "titleColor": "black", "titlePadding": 8,
                   "labelFont": "Liberation Serif", "labelFontStyle": "italic", "labelFontSize": 17, "labelColor": "black",
                   "labelOffset": 3, "symbolType": "stroke", "symbolSize": 2300, "symbolStrokeColor": "black", "columnPadding": 19}},
     "strokeWidth": {"field": "m", "type": "nominal",
        "scale": {"domain": ["Idle","CPU","HD","CD"], "range": [1.3,1.3,1.3,2.6]},
        "legend": {"orient": "none", "legendX": 26, "legendY": -28, "direction": "horizontal",
                   "title": "Working modes:", "titleOrient": "left", "titleFont": "Liberation Serif", "titleFontSize": 17,
                   "titleFontWeight": "normal", "titleColor": "black", "titlePadding": 8,
                   "labelFont": "Liberation Serif", "labelFontStyle": "italic", "labelFontSize": 17, "labelColor": "black",
                   "labelOffset": 3, "symbolType": "stroke", "symbolSize": 2300, "symbolStrokeColor": "black", "columnPadding": 19}}
   }},
  {"data": {"name": "ks"}, "mark": {"type": "text", "font": "Liberation Serif", "fontStyle": "italic", "fontSize": 18, "align": "right", "baseline": "middle", "dx": -8, "color": "black"},
   "encoding": {"text": {"value": "k"}}},
  {"data": {"name": "ks"}, "mark": {"type": "text", "font": "Liberation Serif", "fontSize": 18, "align": "left", "baseline": "middle", "dx": -4, "color": "black"},
   "encoding": {"text": {"field": "t"}}},
  {"data": {"name": "forms"}, "mark": {"type": "text", "font": "Liberation Serif", "fontSize": 24, "align": "left", "baseline": "alphabetic", "dx": 0, "dy": 4, "color": "black"},
   "encoding": {"text": {"value": "("}}},
  {"data": {"name": "forms"}, "mark": {"type": "text", "font": "Liberation Serif", "fontStyle": "italic", "fontSize": 17, "align": "left", "baseline": "alphabetic", "dx": 8, "color": "black"},
   "encoding": {"text": {"value": "HD"}}},
  {"data": {"name": "forms"}, "mark": {"type": "text", "font": "Liberation Serif", "fontSize": 17, "align": "left", "baseline": "alphabetic", "dx": 8, "dy": -10, "color": "black"},
   "encoding": {"text": {"value": "——"}}},
  {"data": {"name": "forms"}, "mark": {"type": "text", "font": "Liberation Serif", "fontStyle": "italic", "fontSize": 12, "align": "left", "baseline": "alphabetic", "dx": 32.6, "dy": 4, "color": "black"},
   "encoding": {"text": {"field": "sub"}}},
  {"data": {"name": "forms"}, "mark": {"type": "text", "font": "Liberation Serif", "fontSize": 17, "align": "left", "baseline": "alphabetic", "dx": 47, "color": "black"},
   "encoding": {"text": {"field": "m1"}}},
  {"data": {"name": "forms"}, "mark": {"type": "text", "font": "Liberation Serif", "fontStyle": "italic", "fontSize": 17, "align": "left", "baseline": "alphabetic", "dx": 117.5, "color": "black"},
   "encoding": {"text": {"value": "S"}}},
  {"data": {"name": "forms"}, "mark": {"type": "text", "font": "Liberation Serif", "fontStyle": "italic", "fontSize": 12, "align": "left", "baseline": "alphabetic", "dx": 126.5, "dy": 4, "color": "black"},
   "encoding": {"text": {"value": "HD"}}},
  {"data": {"name": "forms"}, "mark": {"type": "text", "font": "Liberation Serif", "fontStyle": "italic", "fontSize": 9, "align": "left", "baseline": "alphabetic", "dx": 144, "dy": 7, "color": "black"},
   "encoding": {"text": {"field": "sub"}}},
  {"data": {"name": "forms"}, "mark": {"type": "text", "font": "Liberation Serif", "fontSize": 17, "align": "left", "baseline": "alphabetic", "dx": 156, "color": "black"},
   "encoding": {"text": {"field": "m2"}}},
  {"data": {"name": "forms"}, "mark": {"type": "text", "font": "Liberation Serif", "fontSize": 24, "align": "left", "baseline": "alphabetic", "dx": 218.5, "dy": 4, "color": "black"},
   "encoding": {"text": {"value": ")"}}}
]
}
